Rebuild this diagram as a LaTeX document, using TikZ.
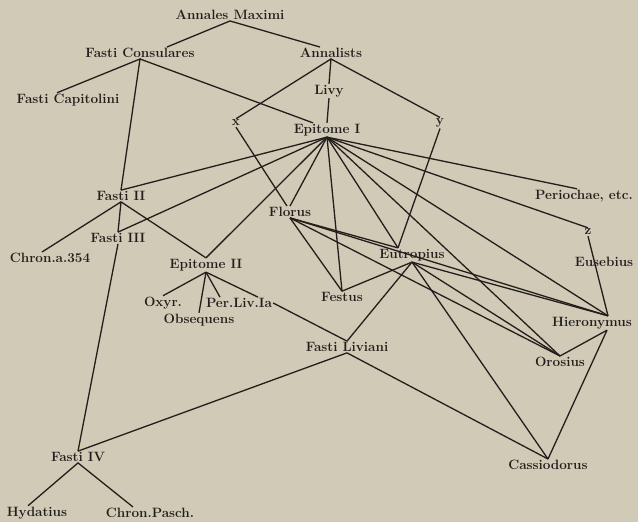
\documentclass[tikz,border=0pt]{standalone}
\usepackage{tikz}
\definecolor{paper}{RGB}{209,202,183}
\definecolor{ink}{RGB}{34,30,28}

\begin{document}
\begin{tikzpicture}[x=1pt, y=-1pt,
    src/.style={text=ink, font=\fontsize{13.5}{15}\selectfont\bfseries, inner sep=1pt},
    link/.style={draw=ink, line width=1.3pt}]
    % Background
    \fill[paper] (0,0) rectangle (638,522);
    \useasboundingbox (0,0) rectangle (638,522);

    % Sources
    \node[src] (annmax) at (230,15) {Annales Maximi};
    \node[src] (fcons) at (140,53) {Fasti Consulares};
    \node[src] (annal) at (331,53) {Annalists};
    \node[src] (fcap) at (68,100) {Fasti Capitolini};
    \node[src] (livy) at (329,91) {Livy};
    \node[src] (nx) at (236,123) {x};
    \node[src] (ny) at (440,123) {y};
    \node[src] (epi1) at (327,130) {Epitome I};
    \node[src] (fii) at (121,196) {Fasti II};
    \node[src] (fiii) at (118,238) {Fasti III};
    \node[src] (chron) at (50,258) {Chron.a.354};
    \node[src] (flor) at (290,212) {Florus};
    \node[src] (epi2) at (206,265) {Epitome II};
    \node[src] (oxyr) at (163,303) {Oxyr.};
    \node[src] (perliv) at (239,303) {Per.Liv.Ia};
    \node[src] (obseq) at (199,320) {Obsequens};
    \node[src] (festus) at (342,297) {Festus};
    \node[src] (eutr) at (412,255) {Eutropius};
    \node[src] (fliv) at (347,347) {Fasti Liviani};
    \node[src] (peri) at (584,196) {Periochae, etc.};
    \node[src] (nz) at (588,232) {z};
    \node[src] (euseb) at (604,262) {Eusebius};
    \node[src] (hier) at (592,323) {Hieronymus};
    \node[src] (oros) at (560,362) {Orosius};
    \node[src] (cass) at (548,465) {Cassiodorus};
    \node[src] (fiv) at (78,457) {Fasti IV};
    \node[src] (hyd) at (37,513) {Hydatius};
    \node[src] (chpas) at (150,513) {Chron.Pasch.};

    % Upper tree
    \draw[link] ([xshift=27pt]fcons.north) -- (annmax.south) -- ([xshift=-11pt]annal.north);
    \draw[link] ([xshift=-11pt]fcap.north) -- (fcons.south) -- (fii.north);
    \draw[link] (fcons.south) -- ([xshift=-14pt]epi1.north);
    \draw[link] (annal.south) -- (livy.north);
    \draw[link] (livy.south) -- (epi1.north);
    \draw[link] (nx.north) -- (annal.south) -- (ny.north);
    \draw[link] (nx.south) -- ([xshift=-3pt]flor.north);
    \draw[link] (ny.south) -- ([xshift=-14pt]eutr.north);

    % Epitome I
    \foreach \t in {fii.north, fiii.north, epi2.north, flor.north, festus.north, oros.north, nz.north}
        \draw[link] (epi1.south) -- (\t);
    \draw[link] (epi1.south) -- ([xshift=-14pt]eutr.north);
    \draw[link] (epi1.south) -- ([xshift=16pt]hier.north);
    \draw[link] (epi1.south) -- ([xshift=-7pt]peri.north);

    % Fasti
    \draw[link] (fii.south) -- ([xshift=-8pt]chron.north);
    \draw[link] (fii.south) -- (fiii.north);
    \draw[link] (fii.south) -- (epi2.north);
    \draw[link] (fiii.south) -- (fiv.north);
    \draw[link] ([xshift=-9pt]hyd.north) -- (fiv.south) -- ([xshift=-17pt]chpas.north);

    % Epitome II
    \draw[link] (epi2.south) -- (oxyr.north);
    \draw[link] (epi2.south) -- (obseq.north);
    \draw[link] (epi2.south) -- ([xshift=-19pt]perliv.north);
    \draw[link] (epi2.south) -- ([xshift=19pt]perliv.north);
    \draw[link] (perliv.east) -- (fliv.north);

    % Florus and Eutropius
    \draw[link] (flor.south) -- ([xshift=-14pt]eutr.north);
    \draw[link] (flor.south) -- (festus.north);
    \draw[link] (flor.south) -- (oros.north);
    \draw[link] (flor.south) -- ([xshift=16pt]hier.north);
    \draw[link] (eutr.south) -- (festus.north);
    \draw[link] (eutr.south) -- (fliv.north);
    \draw[link] (eutr.south) -- (cass.north);
    \draw[link] (eutr.south) -- (oros.north);
    \draw[link] (eutr.south) -- ([xshift=16pt]hier.north);

    % Right branch
    \draw[link] (nz.south) -- ([xshift=16pt]hier.north);
    \draw[link] ([xshift=15pt]hier.south) -- (oros.north);
    \draw[link] ([xshift=15pt]hier.south) -- (cass.north);
    \draw[link] (fiv.north) -- (fliv.south) -- (cass.north);
\end{tikzpicture}
\end{document}
